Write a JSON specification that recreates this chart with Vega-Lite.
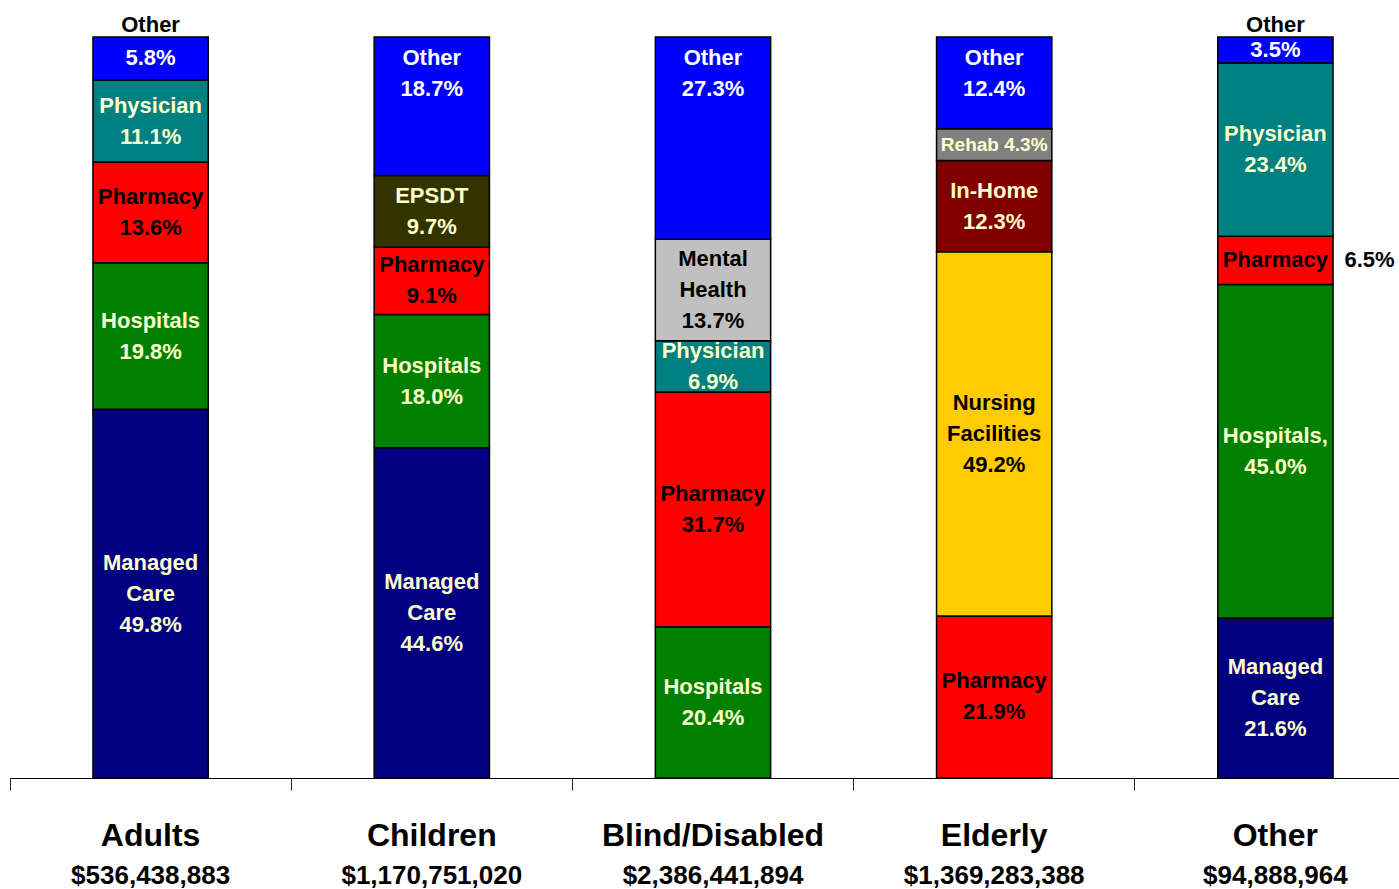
{
  "$schema": "https://vega.github.io/schema/vega-lite/v6.json",
  "width": 1391,
  "height": 741,
  "autosize": {"type": "none"},
  "padding": {"left": 8, "top": 37, "right": 0, "bottom": 111},
  "background": "white",
  "config": {"view": {"stroke": null}, "font": "Liberation Sans"},
  "data": {"values": [
    {"group": "Adults", "total": "$536,438,883", "cat": "Managed Care", "order": 1, "pct": 49.8, "label": "Managed\nCare\n49.8%"},
    {"group": "Adults", "total": "$536,438,883", "cat": "Hospitals", "order": 2, "pct": 19.8, "label": "Hospitals\n19.8%"},
    {"group": "Adults", "total": "$536,438,883", "cat": "Pharmacy", "order": 3, "pct": 13.6, "label": "Pharmacy\n13.6%"},
    {"group": "Adults", "total": "$536,438,883", "cat": "Physician", "order": 4, "pct": 11.1, "label": "Physician\n11.1%"},
    {"group": "Adults", "total": "$536,438,883", "cat": "Other", "order": 5, "pct": 5.8, "label": "5.8%", "note": "Other"},
    {"group": "Children", "total": "$1,170,751,020", "cat": "Managed Care", "order": 1, "pct": 44.6, "label": "Managed\nCare\n44.6%"},
    {"group": "Children", "total": "$1,170,751,020", "cat": "Hospitals", "order": 2, "pct": 18.0, "label": "Hospitals\n18.0%"},
    {"group": "Children", "total": "$1,170,751,020", "cat": "Pharmacy", "order": 3, "pct": 9.1, "label": "Pharmacy\n9.1%"},
    {"group": "Children", "total": "$1,170,751,020", "cat": "EPSDT", "order": 4, "pct": 9.7, "label": "EPSDT\n9.7%"},
    {"group": "Children", "total": "$1,170,751,020", "cat": "Other", "order": 5, "pct": 18.7, "label": "Other\n18.7%"},
    {"group": "Blind/Disabled", "total": "$2,386,441,894", "cat": "Hospitals", "order": 1, "pct": 20.4, "label": "Hospitals\n20.4%"},
    {"group": "Blind/Disabled", "total": "$2,386,441,894", "cat": "Pharmacy", "order": 2, "pct": 31.7, "label": "Pharmacy\n31.7%"},
    {"group": "Blind/Disabled", "total": "$2,386,441,894", "cat": "Physician", "order": 3, "pct": 6.9, "label": "Physician\n6.9%"},
    {"group": "Blind/Disabled", "total": "$2,386,441,894", "cat": "Mental Health", "order": 4, "pct": 13.7, "label": "Mental\nHealth\n13.7%"},
    {"group": "Blind/Disabled", "total": "$2,386,441,894", "cat": "Other", "order": 5, "pct": 27.3, "label": "Other\n27.3%"},
    {"group": "Elderly", "total": "$1,369,283,388", "cat": "Pharmacy", "order": 1, "pct": 21.9, "label": "Pharmacy\n21.9%"},
    {"group": "Elderly", "total": "$1,369,283,388", "cat": "Nursing Facilities", "order": 2, "pct": 49.2, "label": "Nursing\nFacilities\n49.2%"},
    {"group": "Elderly", "total": "$1,369,283,388", "cat": "In-Home", "order": 3, "pct": 12.3, "label": "In-Home\n12.3%"},
    {"group": "Elderly", "total": "$1,369,283,388", "cat": "Rehab", "order": 4, "pct": 4.3, "label": "Rehab 4.3%"},
    {"group": "Elderly", "total": "$1,369,283,388", "cat": "Other", "order": 5, "pct": 12.4, "label": "Other\n12.4%"},
    {"group": "Other", "total": "$94,888,964", "cat": "Managed Care", "order": 1, "pct": 21.6, "label": "Managed\nCare\n21.6%"},
    {"group": "Other", "total": "$94,888,964", "cat": "Hospitals", "order": 2, "pct": 45.0, "label": "Hospitals,\n45.0%"},
    {"group": "Other", "total": "$94,888,964", "cat": "Pharmacy", "order": 3, "pct": 6.5, "label": "Pharmacy", "side": "6.5%"},
    {"group": "Other", "total": "$94,888,964", "cat": "Physician", "order": 4, "pct": 23.4, "label": "Physician\n23.4%"},
    {"group": "Other", "total": "$94,888,964", "cat": "Other", "order": 5, "pct": 3.5, "label": "3.5%", "note": "Other"}
  ]},
  "transform": [
    {"calculate": "datum.group + '|' + datum.total", "as": "key"},
    {"calculate": "datum.note ? datum.note : ''", "as": "noteText"},
    {"calculate": "datum.side ? datum.side : ''", "as": "sideText"},
    {"stack": "pct", "groupby": ["key"], "sort": [{"field": "order", "order": "ascending"}], "offset": "normalize", "as": ["y0", "y1"]},
    {"calculate": "(datum.y0 + datum.y1) / 2", "as": "mid"},
    {"calculate": "datum.cat === 'Other' ? max(datum.mid, datum.y1 - 0.0486) : datum.mid", "as": "blockMid"},
    {"calculate": "datum.blockMid + (length(split(datum.label, '\\n')) - 1) * 0.020918", "as": "ty"}
  ],
  "layer": [
    {
      "mark": {"type": "bar", "stroke": "black", "strokeWidth": 1.5, "width": {"band": 0.41}},
      "encoding": {
        "x": {"field": "key", "type": "nominal", "sort": null,
          "scale": {"range": [2, 1408], "paddingInner": 0, "paddingOuter": 0},
          "axis": {"orient": "bottom", "title": null, "labels": false, "bandPosition": 0, "domainColor": "black", "domainWidth": 1, "tickColor": "#222222", "tickSize": 12, "tickWidth": 1, "grid": false}},
        "y": {"field": "y0", "type": "quantitative", "scale": {"domain": [0, 1]}, "axis": null},
        "y2": {"field": "y1"},
        "color": {"field": "cat", "type": "nominal", "legend": null,
          "scale": {
            "domain": ["Managed Care", "Hospitals", "Pharmacy", "Physician", "Other", "EPSDT", "Mental Health", "Nursing Facilities", "In-Home", "Rehab"],
            "range": ["#000080", "#008000", "#FF0000", "#008080", "#0000FF", "#333300", "#C0C0C0", "#FFCC00", "#800000", "#808080"]}}
      }
    },
    {
      "mark": {"type": "text", "fontWeight": "bold", "lineBreak": "\n", "lineHeight": 31, "baseline": "middle", "align": "center"},
      "encoding": {
        "x": {"field": "key", "type": "nominal", "sort": null,
          "axis": {"orient": "bottom", "title": null, "domain": false, "ticks": false, "tickSize": 0, "grid": false,
            "labelExpr": "split(datum.value, '|')[0]", "labelFontSize": 32, "labelFont": "Liberation Sans", "labelFontWeight": "bold", "labelColor": "black", "labelPadding": 42, "labelLimit": 400, "labelAngle": 0}},
        "y": {"field": "ty", "type": "quantitative", "scale": {"domain": [0, 1]}, "axis": null},
        "text": {"field": "label"},
        "size": {"condition": {"test": "datum.cat === 'Rehab'", "value": 19}, "value": 22},
        "color": {"condition": [
          {"test": "datum.cat === 'Pharmacy' || datum.cat === 'Mental Health' || datum.cat === 'Nursing Facilities'", "value": "black"},
          {"test": "datum.cat === 'Other'", "value": "#FFFFFF"}
        ], "value": "#FFFFCC"}
      }
    },
    {
      "mark": {"type": "text", "fontWeight": "bold", "fontSize": 22, "baseline": "alphabetic", "align": "center", "dy": -5, "color": "black"},
      "encoding": {
        "x": {"field": "key", "type": "nominal", "sort": null,
          "axis": {"orient": "bottom", "title": null, "domain": false, "ticks": false, "tickSize": 0, "grid": false,
            "labelExpr": "split(datum.value, '|')[1]", "labelFontSize": 26, "labelFont": "Liberation Sans", "labelFontWeight": "bold", "labelColor": "black", "labelPadding": 84, "labelLimit": 400, "labelAngle": 0}},
        "y": {"field": "y1", "type": "quantitative", "scale": {"domain": [0, 1]}, "axis": null},
        "text": {"field": "noteText"}
      }
    },
    {
      "mark": {"type": "text", "fontWeight": "bold", "fontSize": 22, "baseline": "middle", "align": "left", "dx": 69, "color": "black"},
      "encoding": {
        "x": {"field": "key", "type": "nominal", "sort": null, "axis": null},
        "y": {"field": "mid", "type": "quantitative", "scale": {"domain": [0, 1]}, "axis": null},
        "text": {"field": "sideText"}
      }
    }
  ],
  "resolve": {"axis": {"x": "independent"}}
}
